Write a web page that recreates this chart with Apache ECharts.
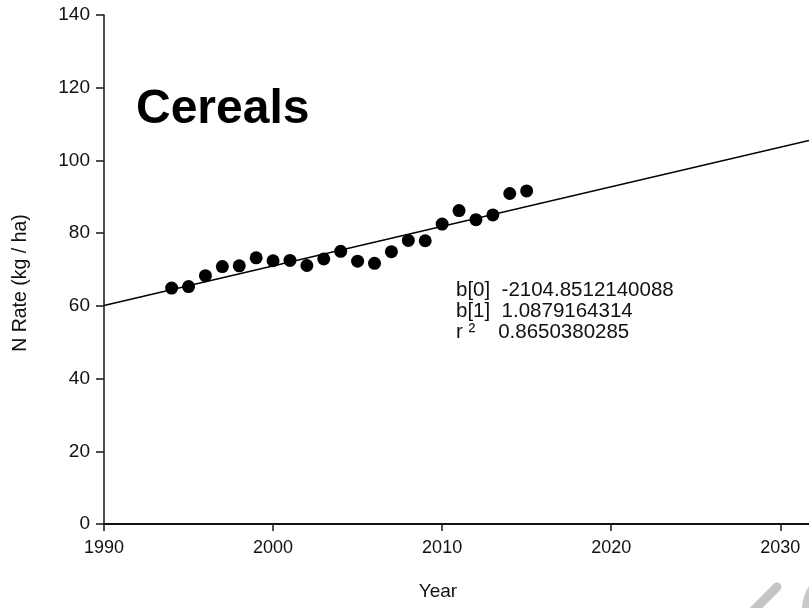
<!DOCTYPE html>
<html>
<head>
<meta charset="utf-8">
<script src="https://cdn.jsdelivr.net/npm/echarts@6/dist/echarts.min.js"></script>
<style>
  html, body { margin: 0; padding: 0; background: #fff; overflow: hidden; }
  #chart { width: 809px; height: 608px; }
</style>
</head>
<body>
<div id="chart"></div>
<script>
// Nitrogen application rate on cereals by year, with a linear trend
const years = [1994, 1995, 1996, 1997, 1998, 1999, 2000, 2001, 2002, 2003, 2004,
               2005, 2006, 2007, 2008, 2009, 2010, 2011, 2012, 2013, 2014, 2015];
const nRate = [64.9, 65.3, 68.3, 70.8, 71.0, 73.2, 72.4, 72.5, 71.1, 72.9, 75.0,
               72.3, 71.7, 74.9, 78.0, 77.9, 82.5, 86.2, 83.7, 85.0, 90.9, 91.6];

// Regression coefficients printed on the chart
const b0 = -2104.8512140088;
const b1 = 1.0879164314;
const r2 = 0.8650380285;

const xTicks = [1990, 2000, 2010, 2020, 2030];
const yTicks = [0, 20, 40, 60, 80, 100, 120, 140];

const xMin = 1990, xMax = 2031.7;
const FONT = '"Liberation Sans", Arial, sans-serif';

const points = years.map((y, i) => [y, nRate[i]]);
const fitLine = [[xMin, b0 + b1 * xMin], [xMax, b0 + b1 * xMax]];

const chart = echarts.init(document.getElementById('chart'), null, { renderer: 'canvas' });

const axisLineStyle = { color: '#222', width: 1.6 };

chart.setOption({
  animation: false,
  backgroundColor: '#fff',
  grid: { left: 104, right: 0, top: 15, bottom: 84 },
  xAxis: [{
    type: 'value',
    min: xMin, max: xMax, interval: 10,
    axisLine: { show: true, onZero: false, lineStyle: axisLineStyle },
    axisTick: { show: true, inside: false, length: 7, lineStyle: axisLineStyle },
    axisLabel: {
      show: true, showMaxLabel: false, margin: 15,
      color: '#111', fontFamily: FONT, fontSize: 18,
      formatter: v => (xTicks.indexOf(v) >= 0 ? String(v) : '')
    },
    splitLine: { show: false }
  }, {
    type: 'value', position: 'top',
    min: xMin, max: xMax,
    axisLine: { show: true, lineStyle: { color: '#111', width: 1.8 } },
    axisTick: { show: false }, axisLabel: { show: false }, splitLine: { show: false }
  }],
  yAxis: {
    type: 'value',
    min: 0, max: 140, interval: 20,
    axisLine: { show: true, onZero: false, lineStyle: axisLineStyle },
    axisTick: { show: true, inside: false, length: 8, lineStyle: axisLineStyle },
    axisLabel: {
      margin: 14, color: '#111', fontFamily: FONT, fontSize: 19,
      formatter: v => (yTicks.indexOf(v) >= 0 ? String(v) : '')
    },
    splitLine: { show: false }
  },
  graphic: [
    {
      type: 'text', left: 136, top: 86,
      style: { text: 'Cereals', font: 'bold 48px ' + FONT, fill: '#000' }
    },
    {
      type: 'text', x: 21, y: 283, rotation: Math.PI / 2,
      style: { text: 'N Rate (kg / ha)', font: '19.5px ' + FONT, fill: '#111',
               align: 'center', verticalAlign: 'middle' }
    },
    {
      type: 'text', x: 438, y: 592,
      style: { text: 'Year', font: '19px ' + FONT, fill: '#111',
               align: 'center', verticalAlign: 'middle' }
    },
    {
      type: 'text', left: 456, top: 280,
      style: {
        text: 'b[0]  ' + b0.toFixed(10) + '\nb[1]  ' + b1.toFixed(10) + '\nr \u00B2    ' + r2.toFixed(10),
        font: '20.5px ' + FONT, fill: '#111', lineHeight: 21
      }
    },
    {
      type: 'line', silent: true,
      shape: { x1: 752, y1: 612, x2: 777, y2: 587 },
      style: { stroke: '#c4c4c4', lineWidth: 9, lineCap: 'round' }
    },
    {
      type: 'circle', silent: true,
      shape: { cx: 846, cy: 610, r: 40 },
      style: { fill: 'none', stroke: '#c8c8c8', lineWidth: 8 }
    }
  ],
  series: [
    {
      type: 'line', data: fitLine, xAxisIndex: 0,
      showSymbol: false, symbol: 'none', silent: true,
      lineStyle: { color: '#000', width: 1.4 }, z: 2
    },
    {
      type: 'scatter', data: points, xAxisIndex: 0,
      symbol: 'circle', symbolSize: 13,
      itemStyle: { color: '#000', opacity: 1 }, z: 3
    }
  ]
});
</script>
</body>
</html>
